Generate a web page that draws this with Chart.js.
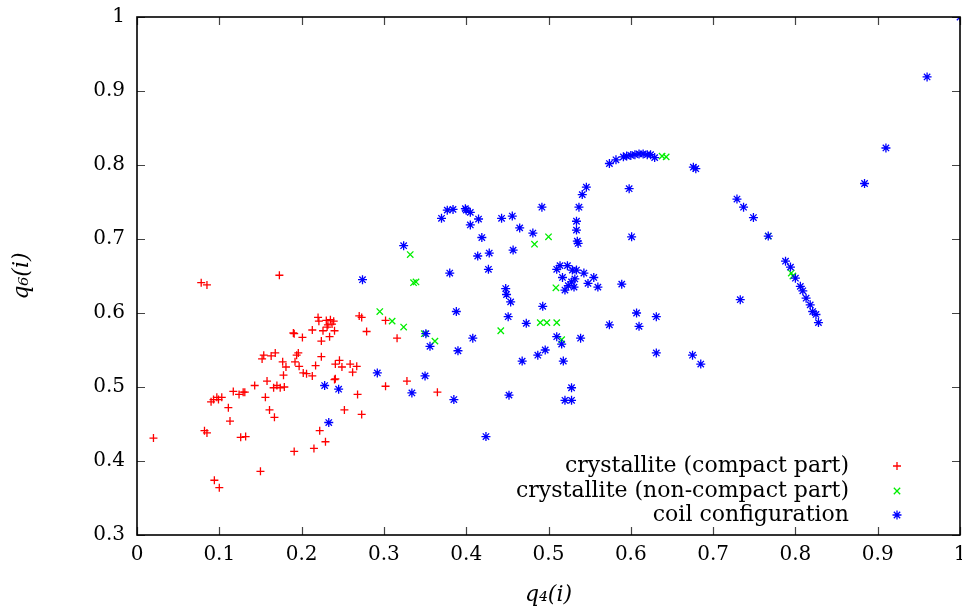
<!DOCTYPE html>
<html>
<head>
<meta charset="utf-8">
<script src="https://cdn.jsdelivr.net/npm/chart.js@4"></script>
<style>
  html, body { margin: 0; padding: 0; background: #fff; }
  #wrap { width: 962px; height: 613px; }
</style>
</head>
<body>
<div id="wrap"><canvas id="q46Chart"></canvas></div>
<script>
// --- data ---
const seriesLabels = [
  "crystallite (compact part)",
  "crystallite (non-compact part)",
  "coil configuration",
];

const compactX = [
  0.173, 0.078, 0.085, 0.220, 0.221, 0.230, 0.235, 0.239, 0.232, 0.237, 0.240, 0.226,
  0.213, 0.231, 0.190, 0.191, 0.201, 0.234, 0.224, 0.270, 0.273, 0.279, 0.302, 0.316,
  0.328, 0.302, 0.224, 0.196, 0.194, 0.168, 0.163, 0.154, 0.152, 0.177, 0.181, 0.178,
  0.192, 0.197, 0.202, 0.206, 0.213, 0.217, 0.241, 0.246, 0.249, 0.259, 0.267, 0.262,
  0.240, 0.241, 0.158, 0.143, 0.166, 0.170, 0.174, 0.179, 0.117, 0.124, 0.129, 0.131,
  0.097, 0.099, 0.103, 0.090, 0.156, 0.111, 0.161, 0.167, 0.113, 0.268, 0.252, 0.273,
  0.082, 0.085, 0.020, 0.126, 0.132, 0.222, 0.229, 0.215, 0.191, 0.150, 0.094, 0.100,
  0.365, 0.093,
];
const compactY = [
  0.651, 0.641, 0.638, 0.594, 0.589, 0.590, 0.591, 0.589, 0.584, 0.585, 0.576, 0.576,
  0.577, 0.581, 0.573, 0.572, 0.567, 0.568, 0.562, 0.596, 0.594, 0.575, 0.590, 0.566,
  0.508, 0.501, 0.541, 0.546, 0.543, 0.546, 0.542, 0.543, 0.538, 0.534, 0.527, 0.516,
  0.534, 0.528, 0.519, 0.518, 0.515, 0.529, 0.531, 0.536, 0.527, 0.531, 0.528, 0.520,
  0.510, 0.511, 0.508, 0.502, 0.499, 0.502, 0.499, 0.500, 0.494, 0.490, 0.493, 0.493,
  0.486, 0.483, 0.486, 0.480, 0.486, 0.472, 0.469, 0.459, 0.454, 0.490, 0.469, 0.463,
  0.441, 0.438, 0.431, 0.432, 0.433, 0.441, 0.426, 0.417, 0.413, 0.386, 0.374, 0.364,
  0.493, 0.483,
];

const nonCompactX = [
  0.332, 0.336, 0.339, 0.295, 0.310, 0.324, 0.349, 0.362, 0.500, 0.483, 0.509,
  0.490, 0.498, 0.510, 0.442, 0.516, 0.638, 0.643, 0.767, 0.795, 0.797,
];
const nonCompactY = [
  0.679, 0.641, 0.642, 0.602, 0.589, 0.581, 0.572, 0.562, 0.703, 0.693, 0.634,
  0.587, 0.587, 0.587, 0.576, 0.564, 0.812, 0.811, 0.704, 0.654, 0.650,
];

const coilX = [
  0.574, 0.582, 0.591, 0.595, 0.600, 0.605, 0.610, 0.615, 0.620, 0.624, 0.629, 0.676,
  0.679, 0.546, 0.541, 0.598, 0.537, 0.534, 0.534, 0.492, 0.601, 0.535, 0.536, 0.370,
  0.377, 0.384, 0.399, 0.400, 0.405, 0.415, 0.405, 0.443, 0.456, 0.465, 0.481, 0.419,
  0.428, 0.414, 0.457, 0.427, 0.380, 0.514, 0.510, 0.523, 0.529, 0.534, 0.532, 0.517,
  0.543, 0.555, 0.548, 0.560, 0.524, 0.528, 0.531, 0.520, 0.589, 0.448, 0.449, 0.454,
  0.388, 0.493, 0.451, 0.473, 0.574, 0.607, 0.610, 0.408, 0.510, 0.516, 0.539, 0.496,
  0.487, 0.390, 0.468, 0.518, 0.528, 0.520, 0.528, 0.385, 0.452, 0.424, 0.729, 0.737,
  0.749, 0.767, 0.788, 0.794, 0.800, 0.806, 0.809, 0.813, 0.818, 0.821, 0.825, 0.828,
  0.733, 0.631, 0.631, 0.675, 0.685, 1.000, 0.960, 0.910, 0.884, 0.324, 0.274, 0.351,
  0.356, 0.292, 0.350, 0.228, 0.245, 0.334, 0.233,
];
const coilY = [
  0.802, 0.807, 0.811, 0.812, 0.813, 0.814, 0.815, 0.815, 0.814, 0.814, 0.810, 0.797,
  0.795, 0.770, 0.760, 0.768, 0.743, 0.724, 0.712, 0.743, 0.703, 0.697, 0.694, 0.728,
  0.739, 0.740, 0.741, 0.739, 0.736, 0.727, 0.719, 0.728, 0.731, 0.715, 0.708, 0.702,
  0.681, 0.677, 0.685, 0.659, 0.654, 0.664, 0.659, 0.664, 0.658, 0.658, 0.646, 0.648,
  0.654, 0.648, 0.640, 0.635, 0.637, 0.642, 0.635, 0.631, 0.639, 0.633, 0.625, 0.615,
  0.602, 0.609, 0.595, 0.586, 0.584, 0.600, 0.582, 0.566, 0.568, 0.558, 0.566, 0.550,
  0.543, 0.549, 0.535, 0.535, 0.499, 0.482, 0.482, 0.483, 0.489, 0.433, 0.754, 0.743,
  0.729, 0.704, 0.670, 0.662, 0.647, 0.636, 0.630, 0.620, 0.611, 0.602, 0.598, 0.587,
  0.618, 0.595, 0.546, 0.543, 0.531, 1.000, 0.919, 0.823, 0.775, 0.691, 0.645, 0.572,
  0.555, 0.519, 0.515, 0.502, 0.497, 0.492, 0.452,
];

const xTickLabels = ["0", "0.1", "0.2", "0.3", "0.4", "0.5", "0.6", "0.7", "0.8", "0.9", "1"];
const yTickLabels = ["0.3", "0.4", "0.5", "0.6", "0.7", "0.8", "0.9", "1"];

const toPoints = (xs, ys) => xs.map((x, i) => ({ x: x, y: ys[i] }));

const FONT = "'DejaVu Serif', 'Liberation Serif', serif";

// gnuplot style frame: full border box with inward ticks on all four sides
const framePlugin = {
  id: "gnuplotFrame",
  afterDatasetsDraw(chart) {
    const { ctx, chartArea: a, scales } = chart;
    const tl = 8;
    ctx.save();
    ctx.strokeStyle = "#444";
    ctx.lineWidth = 1.2;
    ctx.beginPath();
    scales.x.ticks.forEach((t) => {
      const px = Math.round(scales.x.getPixelForValue(t.value)) + 0.5;
      ctx.moveTo(px, a.bottom);
      ctx.lineTo(px, a.bottom - tl);
      ctx.moveTo(px, a.top);
      ctx.lineTo(px, a.top + tl);
    });
    scales.y.ticks.forEach((t) => {
      const py = Math.round(scales.y.getPixelForValue(t.value)) + 0.5;
      ctx.moveTo(a.left, py);
      ctx.lineTo(a.left + tl, py);
      ctx.moveTo(a.right, py);
      ctx.lineTo(a.right - tl, py);
    });
    ctx.stroke();
    ctx.strokeStyle = "#000";
    ctx.lineWidth = 1.6;
    ctx.strokeRect(a.left, a.top, a.right - a.left, a.bottom - a.top);
    ctx.restore();
  },
};

// legend drawn inside the plot, bottom-right, text right aligned before the symbol
const keyPlugin = {
  id: "gnuplotKey",
  afterDraw(chart) {
    const { ctx } = chart;
    const textRight = 849;
    const symX = 897;
    const rows = [466, 491, 515];
    ctx.save();
    ctx.font = "22px " + FONT;
    ctx.textAlign = "right";
    ctx.textBaseline = "middle";
    chart.data.datasets.forEach((ds, i) => {
      ctx.fillStyle = "#000";
      ctx.fillText(ds.label, textRight, rows[i]);
      ctx.strokeStyle = ds.borderColor;
      ctx.fillStyle = ds.borderColor;
      ctx.lineWidth = ds.borderWidth;
      Chart.helpers.drawPoint(ctx, {
        pointStyle: ds.pointStyle,
        radius: ds.pointRadius,
        borderWidth: ds.borderWidth,
        rotation: 0,
      }, symX, rows[i]);
    });
    ctx.restore();
  },
};

new Chart(document.getElementById("q46Chart"), {
  type: "scatter",
  data: {
    datasets: [
      {
        label: seriesLabels[0],
        data: toPoints(compactX, compactY),
        pointStyle: "cross",
        pointRadius: 4,
        borderColor: "#ff0000",
        backgroundColor: "#ff0000",
        borderWidth: 1.3,
        order: 3,
      },
      {
        label: seriesLabels[1],
        data: toPoints(nonCompactX, nonCompactY),
        pointStyle: "crossRot",
        pointRadius: 4.5,
        borderColor: "#00ee00",
        backgroundColor: "#00ee00",
        borderWidth: 1.3,
        order: 2,
      },
      {
        label: seriesLabels[2],
        data: toPoints(coilX, coilY),
        pointStyle: "star",
        pointRadius: 4.5,
        borderColor: "#0000ff",
        backgroundColor: "#0000ff",
        borderWidth: 1.3,
        order: 1,
      },
    ],
  },
  options: {
    responsive: true,
    maintainAspectRatio: false,
    animation: false,
    layout: {
      autoPadding: false, // keep the plot box where the reference has it
      padding: { top: 17, right: 2, left: 0, bottom: 0 },
    },
    plugins: {
      legend: { display: false },
      tooltip: { enabled: false },
    },
    scales: {
      x: {
        type: "linear",
        min: 0,
        max: 1,
        afterFit(scale) {
          scale.height = 78;
          scale.paddingLeft = 0;
          scale.paddingRight = 0;
        },
        grid: { display: false, drawTicks: false },
        border: { display: false },
        ticks: {
          stepSize: 0.1,
          padding: 8,
          color: "#000",
          font: { family: FONT, size: 20 },
          callback: (v, i) => xTickLabels[i],
        },
        title: {
          display: true,
          text: "q\u2084(i)",
          color: "#000",
          font: { family: FONT, size: 22, style: "italic" },
          padding: { top: 0, bottom: 5 },
        },
      },
      y: {
        type: "linear",
        min: 0.3,
        max: 1,
        afterFit(scale) {
          scale.width = 137;
          scale.paddingTop = 0;
          scale.paddingBottom = 0;
        },
        grid: { display: false, drawTicks: false },
        border: { display: false },
        ticks: {
          stepSize: 0.1,
          padding: 12,
          color: "#000",
          font: { family: FONT, size: 20 },
          callback: (v, i) => yTickLabels[i],
        },
        title: {
          display: true,
          text: "q\u2086(i)",
          color: "#000",
          font: { family: FONT, size: 22, style: "italic" },
          padding: { top: 9, bottom: 0 },
        },
      },
    },
  },
  plugins: [framePlugin, keyPlugin],
});
</script>
</body>
</html>
